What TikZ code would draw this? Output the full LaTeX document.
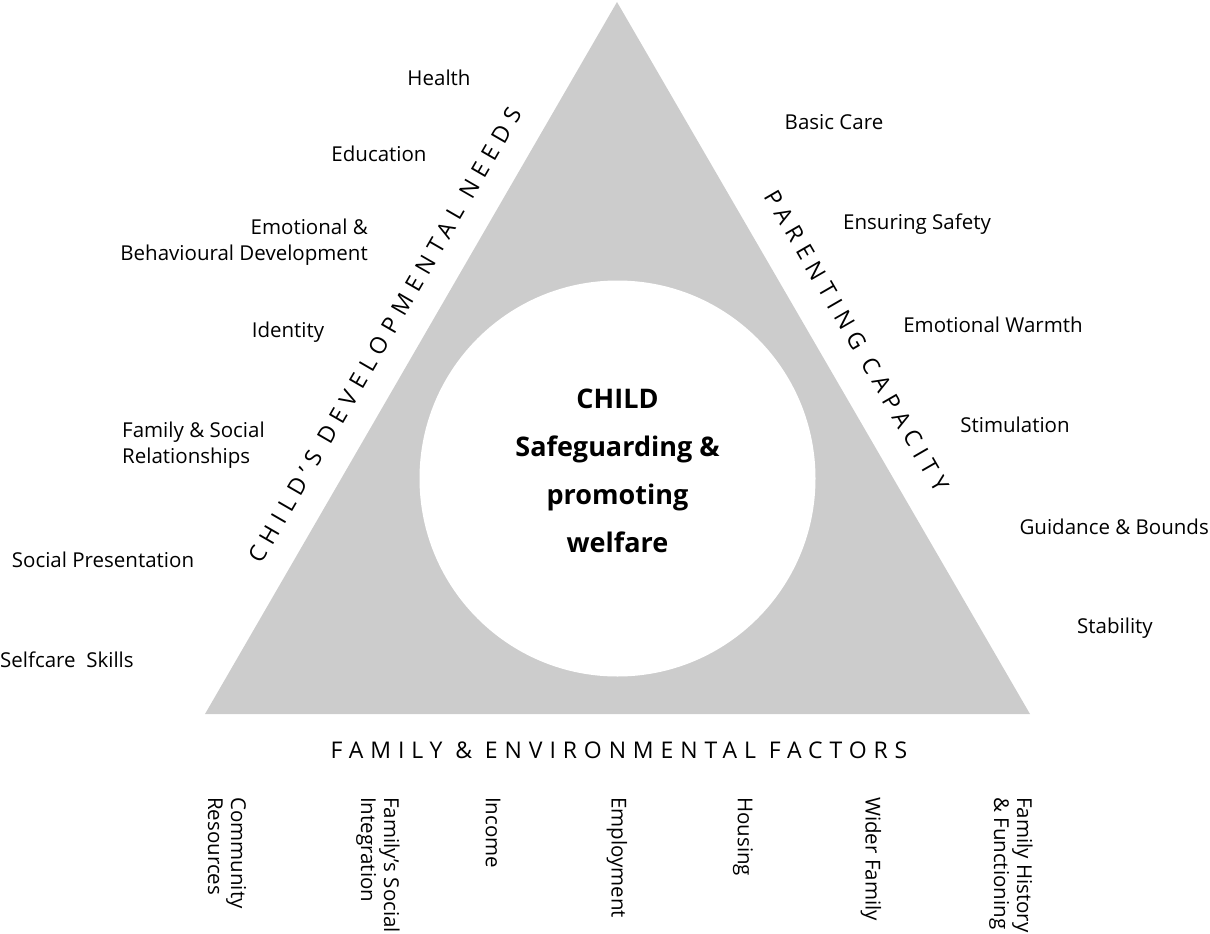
\documentclass[tikz,border=0pt]{standalone}
\usepackage{fontspec}
\setmainfont{Open Sans}
\newfontfamily\titlefont[LetterSpace=30]{Open Sans}
\definecolor{trigrey}{HTML}{CCCCCC}
\begin{document}
\begin{tikzpicture}[x=1pt,y=-1pt,
  lbl/.style={font=\fontsize{20.5}{26}\selectfont, inner sep=0pt},
  ttl/.style={font=\titlefont\fontsize{23}{26}\selectfont, inner sep=0pt},
  vlbl/.style={font=\fontsize{20.5}{23}\selectfont, inner sep=0pt, rotate=-90, anchor=west, align=left},
  ctr/.style={font=\bfseries\fontsize{27}{48}\selectfont, align=center, inner sep=0pt}]
\useasboundingbox (0,0) rectangle (1210,934);
\fill[trigrey] (617,2) coordinate (apex) -- (1030,714) coordinate (br) -- (205,714) coordinate (bl) -- cycle;
\fill[white] (617.5,478.5) circle (198);
\node[ctr] (child) at (617.5,471) {CHILD\\Safeguarding \&\\promoting\\welfare};
% side titles
\node[ttl, rotate=60] (cdn) at (385,335) {CHILD’S DEVELOPMENTAL NEEDS};
\node[ttl, rotate=-60] (pc) at (857,341) {PARENTING CAPACITY};
\node[ttl] (fef) at (619,750) {FAMILY \& ENVIRONMENTAL FACTORS};
% left labels
\node[lbl] (health) at (439,78) {Health};
\node[lbl] (edu) at (379,154) {Education};
\node[lbl, anchor=east, align=right] (emo) at (368,242) {Emotional \&\\Behavioural Development};
\node[lbl] (ident) at (288,332) {Identity};
\node[lbl, anchor=west, align=left] (fam) at (122,445) {Family \& Social\\ Relationships};
\node[lbl] (socp) at (103,560) {Social Presentation};
\node[lbl, anchor=west] (self) at (0,660) {Selfcare\ \ Skills};
% right labels
\node[lbl] (basic) at (834,122) {Basic Care};
\node[lbl] (safe) at (917,224) {Ensuring Safety};
\node[lbl] (warm) at (993,325) {Emotional Warmth};
\node[lbl] (stim) at (1015,425) {Stimulation};
\node[lbl, anchor=east] (guid) at (1209,527) {Guidance \& Bounds};
\node[lbl] (stab) at (1115,628) {Stability};
% bottom labels
\node[vlbl] (comm) at (227,797) {Community\\Resources};
\node[vlbl] (fsi) at (378,797) {Family’s Social\\Integration};
\node[vlbl] (inc) at (493,797) {Income};
\node[vlbl] (emp) at (617,797) {Employment};
\node[vlbl] (hous) at (743,797) {Housing};
\node[vlbl] (wider) at (871,797) {Wider Family};
\node[vlbl] (fhist) at (1011,797) {Family History\\\& Functioning};
\end{tikzpicture}
\end{document}
